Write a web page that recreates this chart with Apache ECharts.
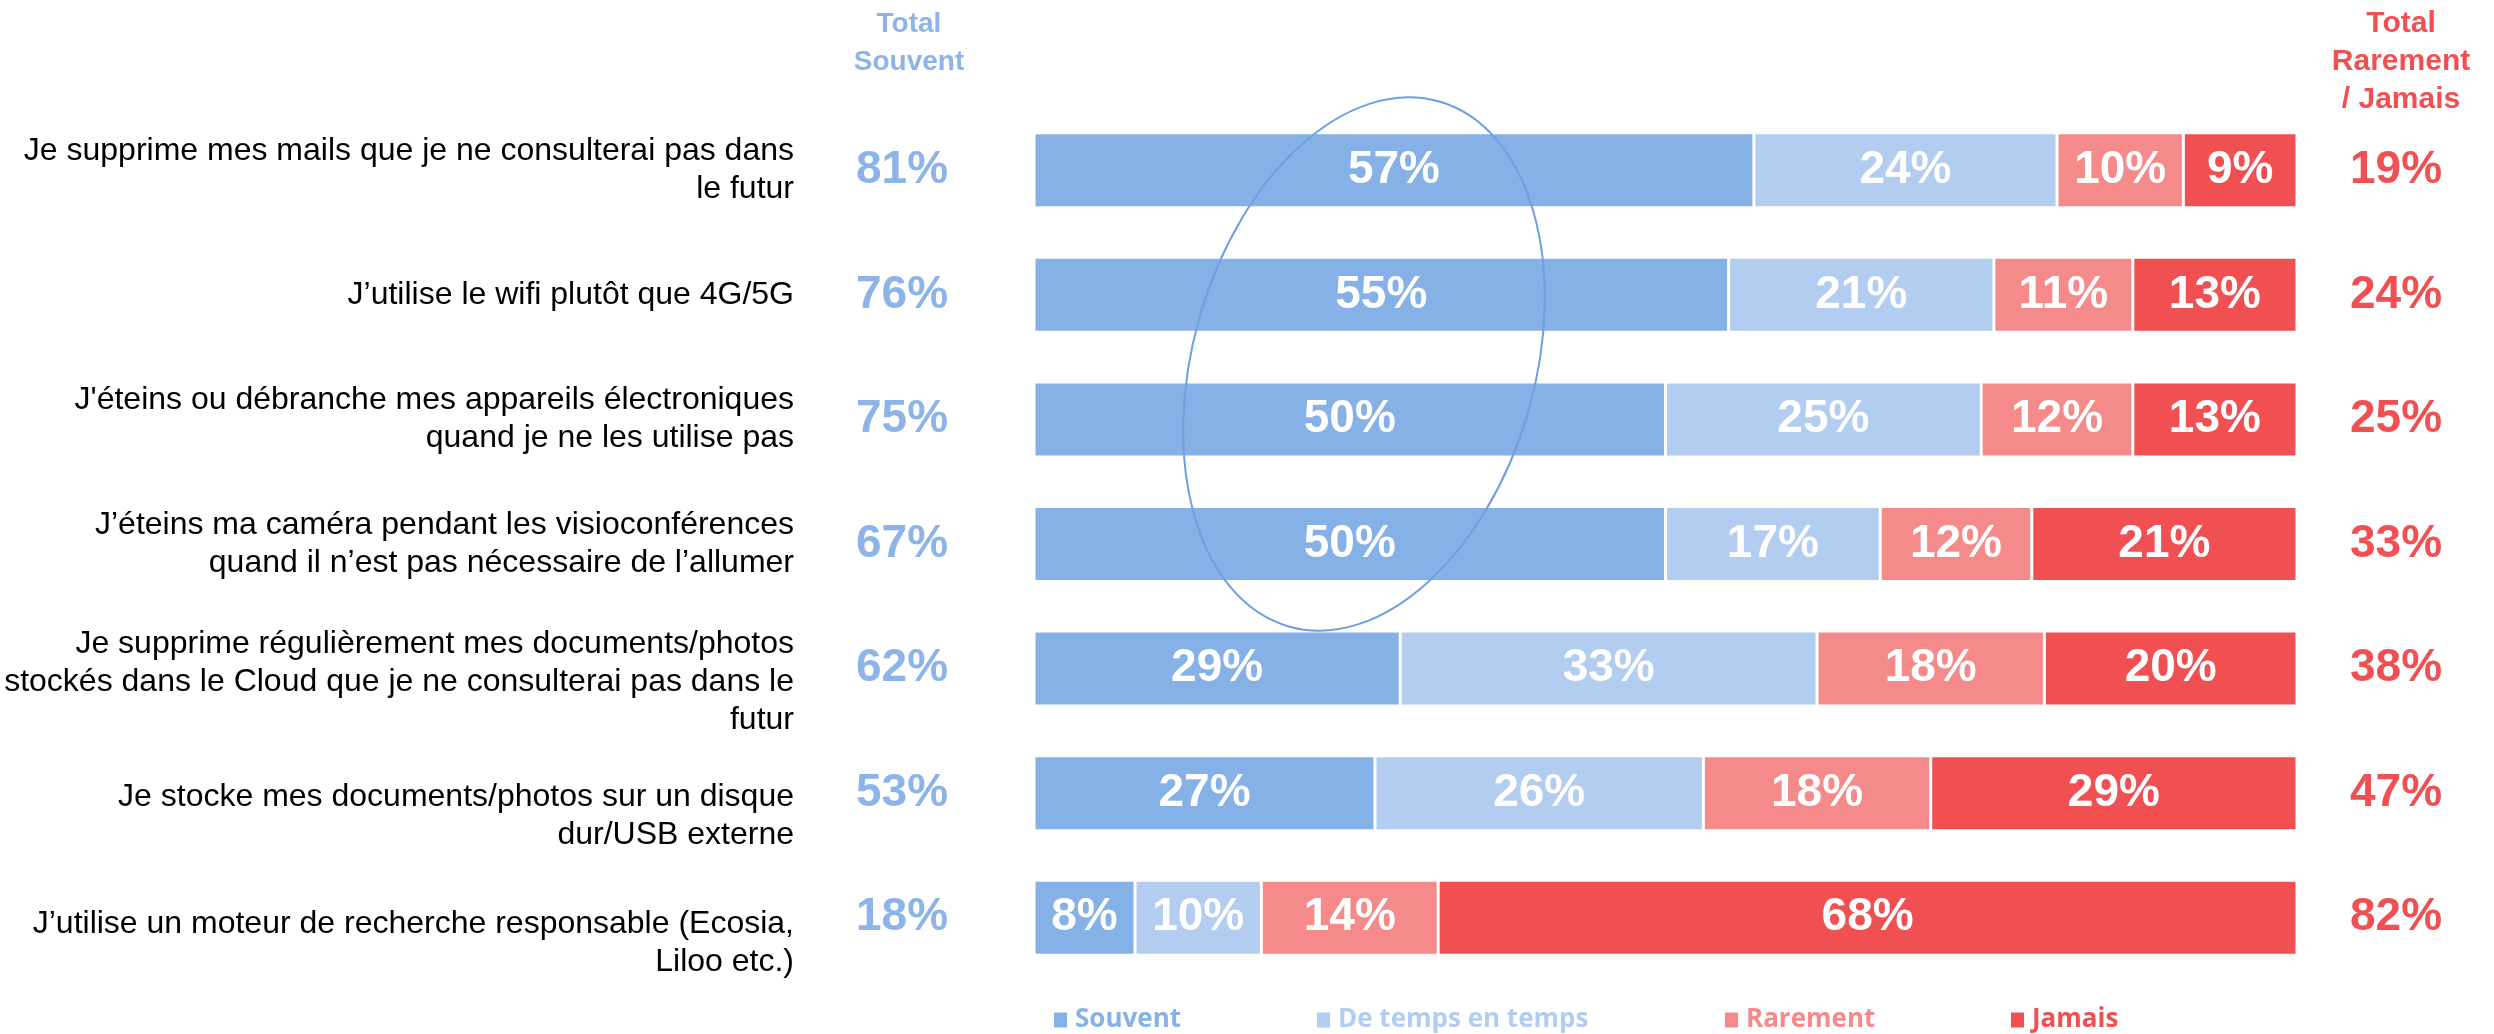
<!DOCTYPE html>
<html>
<head>
<meta charset="utf-8">
<script src="https://cdn.jsdelivr.net/npm/echarts@6/dist/echarts.min.js"></script>
<style>
  html, body { margin: 0; padding: 0; background: #ffffff; }
  #chart { width: 2494px; height: 1034px; }
</style>
</head>
<body>
<div id="chart"></div>
<script>
// ---- Data ----
const categories = [
  "Je supprime mes mails que je ne consulterai pas dans\nle futur",
  "J’utilise le wifi plutôt que 4G/5G",
  "J'éteins ou débranche mes appareils électroniques\nquand je ne les utilise pas",
  "J’éteins ma caméra pendant les visioconférences\nquand il n’est pas nécessaire de l’allumer",
  "Je supprime régulièrement mes documents/photos\nstockés dans le Cloud que je ne consulterai pas dans le\nfutur",
  "Je stocke mes documents/photos sur un disque\ndur/USB externe",
  "J’utilise un moteur de recherche responsable (Ecosia,\nLiloo etc.)"
];
const seriesNames = ["Souvent", "De temps en temps", "Rarement", "Jamais"];
const souvent        = [57, 55, 50, 50, 29, 27, 8];
const deTempsEnTemps = [24, 21, 25, 17, 33, 26, 10];
const rarement       = [10, 11, 12, 12, 18, 18, 14];
const jamais         = [9, 13, 13, 21, 20, 29, 68];
const totalSouvent   = [81, 76, 75, 67, 62, 53, 18];
const totalRarementJamais = [19, 24, 25, 33, 38, 47, 82];
const headerLeft  = "Total\nSouvent";
const headerRight = "Total\nRarement\n/ Jamais";

// ---- Styles ----
const colors = ["#86b1e6", "#b2cdf0", "#f48a8a", "#f05052"];
const FONT = "'Liberation Sans', Arial, sans-serif";
// extra top spacer (px) for some category labels, to mimic the reference layout
const labelSpacer = [0, 0, 0, 0, 28, 46, 50];

const chart = echarts.init(document.getElementById('chart'), null, { renderer: 'canvas' });

const seriesData = [souvent, deTempsEnTemps, rarement, jamais];

const rich = {};
labelSpacer.forEach((h, i) => {
  if (h > 0) rich['g' + i] = { height: h, lineHeight: h, fontSize: 2 };
});

const option = {
  backgroundColor: '#ffffff',
  animation: false,
  title: [
    {
      text: headerLeft, left: 904, top: 0, textAlign: 'center',
      textStyle: { color: '#8cb4e8', fontFamily: FONT, fontWeight: 'bold', fontSize: 28, lineHeight: 38 }
    },
    {
      text: headerRight, left: 2396, top: 0, textAlign: 'center',
      textStyle: { color: '#f05052', fontFamily: FONT, fontWeight: 'bold', fontSize: 30, lineHeight: 38 }
    }
  ],
  legend: seriesNames.map((name, i) => ({
    data: [name],
    left: [1047, 1310, 1718, 2004][i],
    top: 1002,
    itemWidth: 15,
    itemHeight: 17,
    itemGap: 10,
    selectedMode: false,
    icon: 'rect',
    textStyle: { color: colors[i], fontFamily: "'Open Sans', sans-serif", fontWeight: 'bold', fontSize: 26, padding: [0, 0, 0, 2] }
  })),
  grid: { left: 1034, right: 197, top: 108, height: 872, containLabel: false },
  xAxis: { type: 'value', min: 0, max: 100, show: false },
  yAxis: [
    {
      type: 'category', inverse: true, position: 'left',
      data: categories,
      axisLine: { show: false }, axisTick: { show: false }, splitLine: { show: false },
      axisLabel: {
        align: 'right', margin: 240, color: '#000000', fontFamily: FONT, fontSize: 32, lineHeight: 38,
        formatter: (value, index) => labelSpacer[index] > 0 ? ('{g' + index + '| }\n' + value) : value,
        rich: rich
      }
    },
    {
      type: 'category', inverse: true, position: 'left', offset: 0,
      data: totalSouvent.map(v => v + '%'),
      axisLine: { show: false }, axisTick: { show: false }, splitLine: { show: false },
      axisLabel: { align: 'center', margin: 132, color: '#8cb4e8', fontFamily: FONT, fontWeight: 'bold', fontSize: 46 }
    },
    {
      type: 'category', inverse: true, position: 'right', offset: 0,
      data: totalRarementJamais.map(v => v + '%'),
      axisLine: { show: false }, axisTick: { show: false }, splitLine: { show: false },
      axisLabel: { align: 'center', margin: 99, color: '#f05052', fontFamily: FONT, fontWeight: 'bold', fontSize: 46 }
    }
  ],
  series: seriesNames.map((name, i) => ({
    name: name,
    type: 'bar',
    stack: 'total',
    yAxisIndex: 0,
    barWidth: 75,
    data: seriesData[i],
    itemStyle: { color: colors[i], borderColor: '#ffffff', borderWidth: 1.5 },
    label: {
      show: true, position: 'inside', formatter: '{c}%',
      color: '#ffffff', fontFamily: FONT, fontWeight: 'bold', fontSize: 46
    }
  })),
  graphic: [
    {
      type: 'ellipse',
      x: 1364, y: 364,
      rotation: -16 * Math.PI / 180,
      shape: { cx: 0, cy: 0, rx: 171, ry: 273 },
      style: { fill: 'none', stroke: '#6f9fe0', lineWidth: 2 },
      z: 100
    }
  ]
};

chart.setOption(option);
</script>
</body>
</html>
